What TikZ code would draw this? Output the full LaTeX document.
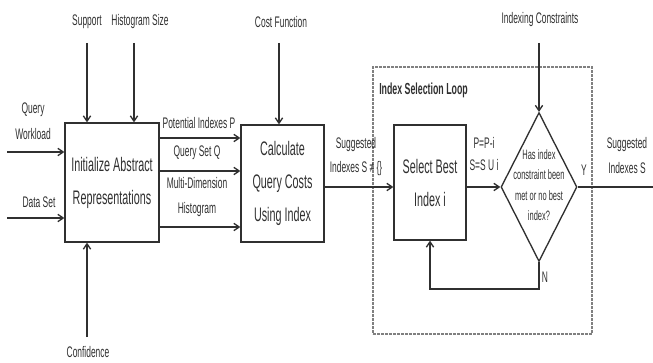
\documentclass[tikz,border=0pt]{standalone}
\usepackage{fontspec}
\setmainfont[FakeStretch=0.55]{Liberation Sans}
\usetikzlibrary{arrows.meta,shapes.geometric}
\definecolor{ink}{HTML}{303030}
\begin{document}
\begin{tikzpicture}[x=0.75pt,y=-0.75pt,
  box/.style={draw=ink, line width=1pt, inner sep=0pt, text=ink, align=center, font=\fontsize{14.7}{24.75}\selectfont},
  arr/.style={draw=ink, line width=1pt, -{Straight Barb[length=4pt,width=5.5pt]}},
  ln/.style={draw=ink, line width=1pt},
  lab/.style={inner sep=0pt, text=ink, align=center, font=\fontsize{11.5}{19.5}\selectfont},
]
\useasboundingbox (0,0) rectangle (653,363);
% loop frame
\node[draw=gray, dash pattern=on 2pt off 1pt, line width=0.8pt, minimum width=219*0.75pt, minimum height=267*0.75pt, inner sep=0pt] (loop) at (482.5,200.5) {};
\node[lab, anchor=west, font=\bfseries\fontsize{12}{14}\selectfont] (looplabel) at (379,90) {Index Selection Loop};
% main boxes
\node[box, minimum width=94*0.75pt, minimum height=119*0.75pt] (init) at (112,182.5) {Initialize Abstract\\Representations};
\node[box, minimum width=83*0.75pt, minimum height=117*0.75pt] (calc) at (282.5,183.5) {Calculate\\Query Costs\\Using Index};
\node[box, minimum width=72*0.75pt, minimum height=115*0.75pt] (sel) at (430,182.5) {Select Best\\Index i};
\node[draw=ink, line width=1pt, diamond, minimum width=76*0.75pt, minimum height=149*0.75pt, inner sep=0pt] (dec) at (539,187) {};
\node[lab, font=\fontsize{10.2}{15.4}\selectfont] (dectext) at (539,185) {Has index\\constraint been\\met or no best\\index?};
% labels
\node[lab] (qw) at (33,121) {Query\\Workload};
\node[lab] (ds) at (39,202) {Data Set};
\node[lab] (sup) at (87,22) {Support};
\node[lab] (hs) at (140,22) {Histogram Size};
\node[lab] (conf) at (88,352) {Confidence};
\node[lab] (cf) at (281,22) {Cost Function};
\node[lab] (ic) at (540,20) {Indexing Constraints};
\node[lab] (pip) at (199,123) {Potential Indexes P};
\node[lab] (qsq) at (197,153) {Query Set Q};
\node[lab, font=\fontsize{11.5}{18.75}\selectfont] (mdh) at (197,197.5) {Multi-Dimension\\Histogram};
\node[lab, font=\fontsize{11.5}{18}\selectfont] (sug1) at (356,157) {Suggested\\Indexes S ≠ \{\}};
\node[lab, font=\fontsize{11.5}{16.5}\selectfont] (psi) at (484,154) {P=P-i\\S=S U i};
\node[lab] (ylab) at (584,170) {Y};
\node[lab] (nlab) at (545,277) {N};
\node[lab, font=\fontsize{11.5}{18.75}\selectfont] (sug2) at (627,155.5) {Suggested\\Indexes S};
% free ends
\coordinate (qwa) at (7,152);
\coordinate (dsa) at (7,218);
\coordinate (supa) at (87,43);
\coordinate (hsa) at (134,43);
\coordinate (cfa) at (279,43);
\coordinate (confa) at (87,337);
\coordinate (ica) at (539,43);
\coordinate (outend) at (653,187);
\coordinate (lp) at (539,289);
\coordinate (l1) at (0,138);
\coordinate (l2) at (0,171);
\coordinate (l3) at (0,227);
\coordinate (l4) at (0,187);
% connectors
\draw[arr] (qwa) -- (init.west |- qwa);
\draw[arr] (dsa) -- (init.west |- dsa);
\draw[arr] (supa) -- (supa |- init.north);
\draw[arr] (hsa) -- (hsa |- init.north);
\draw[arr] (confa) -- (confa |- init.south);
\draw[arr] (cfa) -- (cfa |- calc.north);
\draw[arr] (init.east |- l1) -- (calc.west |- l1);
\draw[arr] (init.east |- l2) -- (calc.west |- l2);
\draw[arr] (init.east |- l3) -- (calc.west |- l3);
\draw[arr] (calc.east |- l4) -- (sel.west |- l4);
\draw[arr] (sel.east |- dec.west) -- (dec.west);
\draw[arr] (ica) -- (dec.north);
\draw[ln] (dec.east) -- (outend);
\draw[arr] (dec.south) -- (lp) -| (sel.south);
\end{tikzpicture}
\end{document}
